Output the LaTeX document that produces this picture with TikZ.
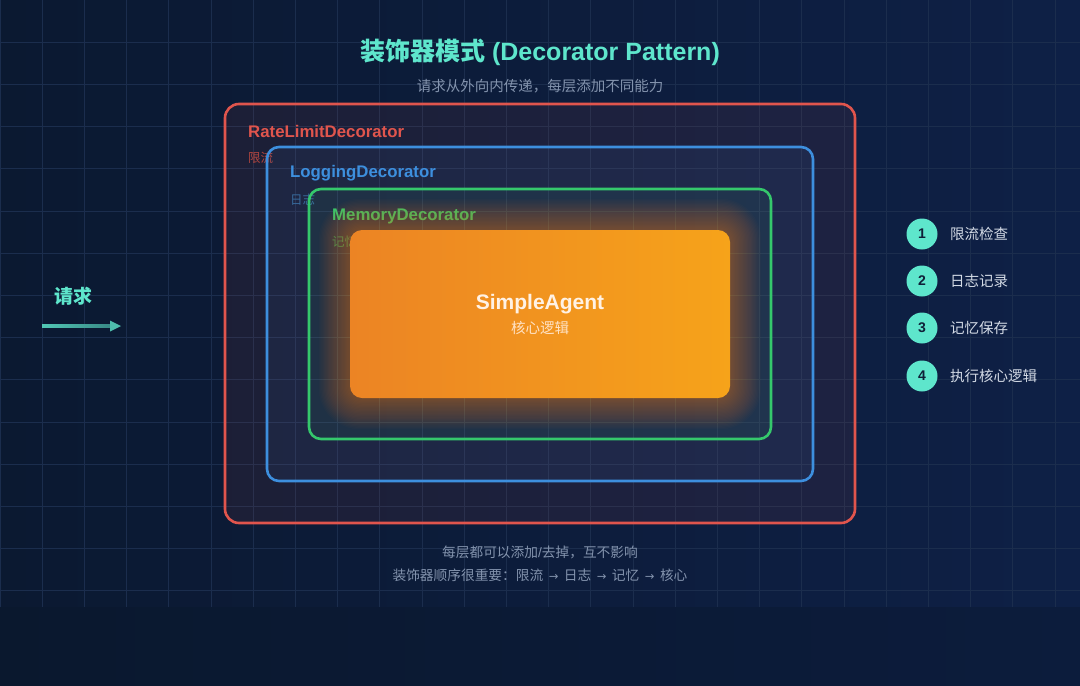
\documentclass[tikz,border=0pt]{standalone}
\usepackage{fontspec}
\setmainfont{Liberation Sans}
\newfontfamily\cjk{Noto Sans CJK SC}
\newfontfamily\symf{DejaVu Sans}
\newcommand{\rarrw}{\hspace{5.5pt}{\symf\fontsize{11.5}{13}\selectfont →}\hspace{5.5pt}}
\usetikzlibrary{calc}
\definecolor{bgA}{HTML}{0B1931}
\definecolor{bgB}{HTML}{0E2046}
\definecolor{bgC}{HTML}{0A182E}
\definecolor{bgD}{HTML}{0C1C3C}
\definecolor{gridc}{HTML}{1B2D4D}
\definecolor{tealc}{HTML}{5EE6CC}
\definecolor{subc}{HTML}{8393AD}
\definecolor{redc}{HTML}{E0554D}
\definecolor{redd}{HTML}{B0453F}
\definecolor{bluec}{HTML}{3D8FDE}
\definecolor{blued}{HTML}{386A9C}
\definecolor{greenc}{HTML}{35C86C}
\definecolor{greend}{HTML}{2C8A55}
\definecolor{orA}{HTML}{EC8424}
\definecolor{orB}{HTML}{F6A31A}
\definecolor{navy}{HTML}{0F2038}
\definecolor{stepc}{HTML}{D3DAE5}
\tikzset{
  layerbox/.style={rectangle, rounded corners=#1, line width=2.6pt, inner sep=0pt, outer sep=0pt},
  boxtitle/.style={anchor=west, inner sep=0pt, font=\bfseries\fontsize{16.8}{20}\selectfont},
  boxsub/.style={anchor=west, inner sep=0pt, font=\cjk\fontsize{12.5}{15}\selectfont},
  stepnum/.style={circle, fill=tealc, minimum size=31pt, inner sep=0pt, text=navy, font=\bfseries\fontsize{14}{16}\selectfont},
  steplabel/.style={anchor=west, inner sep=0pt, text=stepc, font=\cjk\fontsize{14.5}{17}\selectfont},
  note/.style={text=subc, inner sep=0pt, font=\fontsize{13.7}{16}\selectfont}
}
\begin{document}
\begin{tikzpicture}[x=1pt,y=-1pt]
\useasboundingbox (0,0) rectangle (1080,686);
% background
\shade[left color=bgA, right color=bgB] (0,0) rectangle (1080,607);
\shade[left color=bgC, right color=bgD] (0,607) rectangle (1080,686);
% grid
\foreach \i in {0,...,25} \draw[gridc, line width=0.9pt] ({\i*42.2},0) -- ({\i*42.2},607);
\foreach \j in {1,...,14} \draw[gridc, line width=0.9pt] (0,{\j*42.2}) -- (1080,{\j*42.2});

% title
\node[text=tealc, font=\bfseries\fontsize{25}{30}\selectfont] (title) at (540,52) {{\cjk 装饰器模式} (Decorator Pattern)};
\node[text=subc, font=\cjk\fontsize{14.5}{17}\selectfont] (subtitle) at (540,86) {请求从外向内传递，每层添加不同能力};

% rate limit layer
\node[layerbox=14pt, draw=redc, fill=redc, fill opacity=0.08, minimum width=630pt, minimum height=419pt] (rate) at (540,313.5) {};
\node[boxtitle, text=redc] (rateT) at (248,131) {RateLimitDecorator};
\node[boxsub, text=redd] (rateS) at (248,158) {限流};

% logging layer
\node[layerbox=12pt, draw=bluec, fill=bluec, fill opacity=0.07, minimum width=546pt, minimum height=334pt] (logb) at (540,314) {};
\node[boxtitle, text=bluec] (logT) at (290,173) {LoggingDecorator};
\node[boxsub, text=blued] (logS) at (290,200) {日志};

% memory layer
\node[layerbox=12pt, draw=greenc, fill=greenc, fill opacity=0.07, minimum width=462pt, minimum height=250pt] (mem) at (540,314) {};
\node[boxtitle, text=greenc] (memT) at (332,216) {MemoryDecorator};
\node[boxsub, text=greend] (memS) at (332,242) {记忆};

% glow of the core
\foreach \k in {1,...,24}
  \fill[orA, opacity=0.022, rounded corners={12+\k*1.2}] ({350-\k*1.3},{230-\k*1.3}) rectangle ({730+\k*1.3},{398+\k*1.3});

% core
\node[layerbox=12pt, line width=0pt, left color=orA, right color=orB, minimum width=380pt, minimum height=168pt] (core) at (540,314) {};
\node[text=white!90!orange, font=\bfseries\fontsize{21}{25}\selectfont] (coreT) at (540,304) {SimpleAgent};
\node[text=white!78!orange, font=\cjk\fontsize{14.5}{17}\selectfont] (coreS) at (540,328) {核心逻辑};

% request
\node[text=tealc, font=\cjk\bfseries\fontsize{19}{22}\selectfont] (req) at (73,296) {请求};
\coordinate (arrS) at (42,326);
\coordinate (arrE) at (121,326);
\shade[left color=tealc!85!bgA, right color=tealc!55!bgA] ($(arrS)+(0,-1.5)$) rectangle ($(arrE)+(-11,1.5)$);
\fill[tealc!80!bgA] ($(arrE)+(-11,-5.5)$) -- (arrE) -- ($(arrE)+(-11,5.5)$) -- cycle;

% steps
\node[stepnum] (s1) at (922,234) {1};
\node[stepnum] (s2) at (922,281) {2};
\node[stepnum] (s3) at (922,328) {3};
\node[stepnum] (s4) at (922,376) {4};
\node[steplabel] (l1) at (950,234) {限流检查};
\node[steplabel] (l2) at (950,281) {日志记录};
\node[steplabel] (l3) at (950,328) {记忆保存};
\node[steplabel] (l4) at (950,376) {执行核心逻辑};

% notes
\node[note] (n1) at (540,552) {{\cjk 每层都可以添加}/{\cjk 去掉，互不影响}};
\node[note] (n2) at (540,575) {{\cjk 装饰器顺序很重要：限流}\rarrw{\cjk 日志}\rarrw{\cjk 记忆}\rarrw{\cjk 核心}};
\end{tikzpicture}
\end{document}
